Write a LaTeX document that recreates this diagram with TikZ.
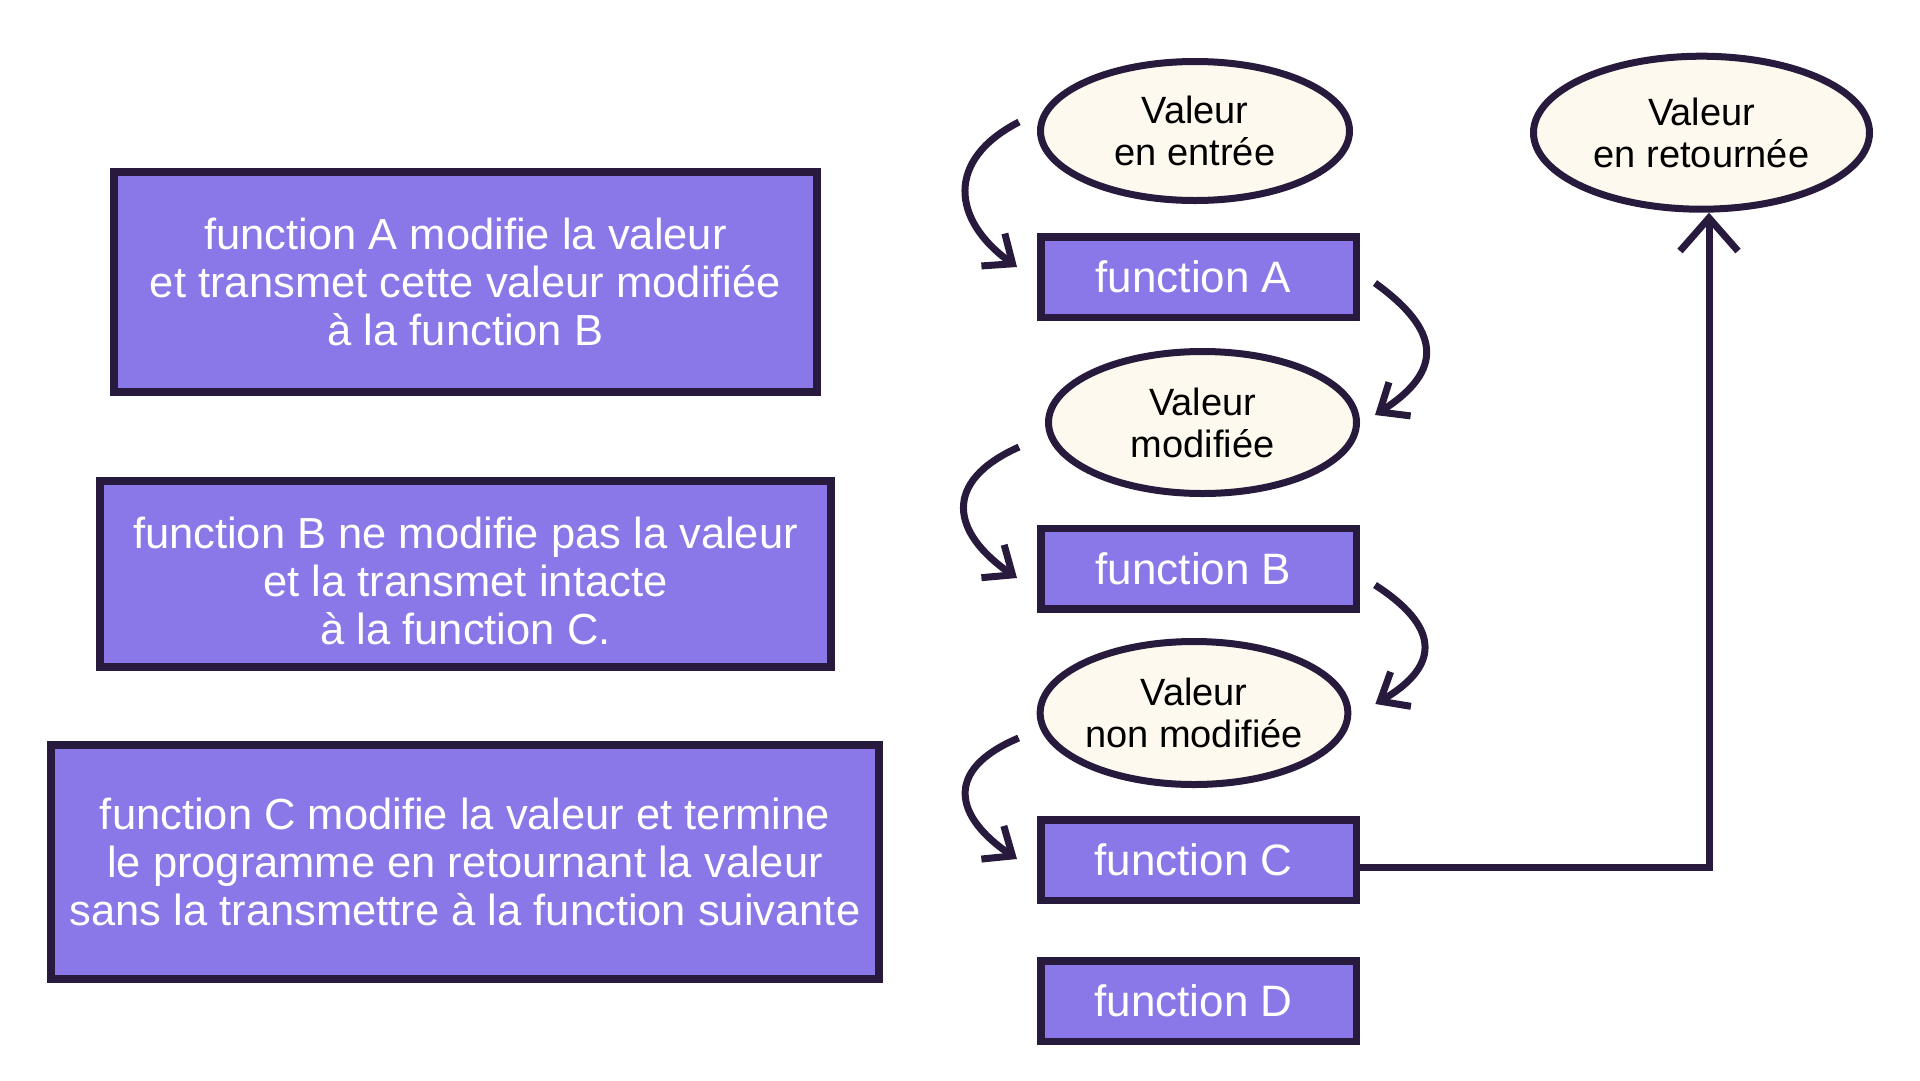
\documentclass[tikz,border=0pt]{standalone}
\usepackage{fontspec}
\setmainfont{Liberation Sans}
\usetikzlibrary{arrows.meta,shapes.geometric,calc}
\definecolor{ink}{HTML}{281A3C}
\definecolor{violetfill}{HTML}{8A78E8}
\definecolor{cream}{HTML}{FEF9EE}
\begin{document}
\begin{tikzpicture}[x=1pt,y=-1pt,
  descbox/.style={draw=ink,line width=8pt,fill=violetfill,text=white,align=center,inner sep=0pt,font=\fontsize{43.5}{48}\selectfont},
  funbox/.style={draw=ink,line width=7.5pt,fill=violetfill,text=white,inner sep=0pt,minimum width=315.5pt,minimum height=80.5pt,font=\fontsize{44}{48}\selectfont},
  valell/.style={ellipse,draw=ink,line width=7pt,fill=cream,text=black,align=center,inner sep=0pt,font=\fontsize{38}{42}\selectfont},
  flow/.style={draw=ink,line width=7pt,-{Straight Barb[length=24pt,width=40pt]}},
  retflow/.style={draw=ink,line width=7pt,-{Straight Barb[length=33pt,width=58pt]}}]
\fill[white] (0,0) rectangle (1920,1080);
\useasboundingbox (0,0) rectangle (1920,1080);
% description boxes
\node[descbox,minimum width=703pt,minimum height=220pt] (dA) at (465.5,282) {function A modifie la valeur\\et transmet cette valeur modifiée\\à la function B};
\node[descbox,minimum width=731pt,minimum height=186pt] (dB) at (465.5,574) {\rule{0pt}{46pt}function B ne modifie pas la valeur\\et la transmet intacte\\à la function C.};
\node[descbox,minimum width=828pt,minimum height=234pt] (dC) at (465,862) {function C modifie la valeur et termine\\le programme en retournant la valeur\\sans la transmettre à la function suivante};
% value ellipses
\node[valell,minimum width=309pt,minimum height=139pt] (E1) at (1195,131) {Valeur\\en entrée};
\node[valell,minimum width=308pt,minimum height=142pt] (E2) at (1202.5,422.5) {Valeur\\modifiée};
\node[valell,minimum width=307pt,minimum height=143pt] (E3) at (1194,713) {Valeur\\non modifiée};
\node[valell,minimum width=336pt,minimum height=153pt] (E4) at (1701.5,132.7) {Valeur\\en retournée};
% function boxes
\node[funbox] (A) at (1198.5,277) {\hspace*{-10pt}function A};
\node[funbox] (B) at (1198.5,568.5) {\hspace*{-10pt}function B};
\node[funbox] (C) at (1198.5,860) {\hspace*{-10pt}function C};
\node[funbox] (D) at (1198.5,1001) {\hspace*{-10pt}function D};
% curved connectors
\draw[flow] ($(E1.west)+(-18,-9)$) .. controls +(-74,38) and +(-65,-47) .. ($(A.west)+(-20,-10)$);
\draw[flow] ($(E2.west)+(-26,24.5)$) .. controls +(-78,35) and +(-65,-45) .. ($(B.west)+(-20,9.5)$);
\draw[flow] ($(E3.west)+(-18,25)$) .. controls +(-76,32) and +(-62,-42) .. ($(C.west)+(-20,-1)$);
\draw[flow] ($(A.east)+(15,6)$) .. controls +(65,47) and +(70,-45) .. ($(E2.east)+(15,-7.5)$);
\draw[flow] ($(B.east)+(15,16.5)$) .. controls +(62,40) and +(68,-40) .. ($(E3.east)+(24,-9)$);
% return connector
\draw[retflow] ([yshift=-7pt]C.east) -| ([xshift=7.5pt]E4.south);
\end{tikzpicture}
\end{document}
